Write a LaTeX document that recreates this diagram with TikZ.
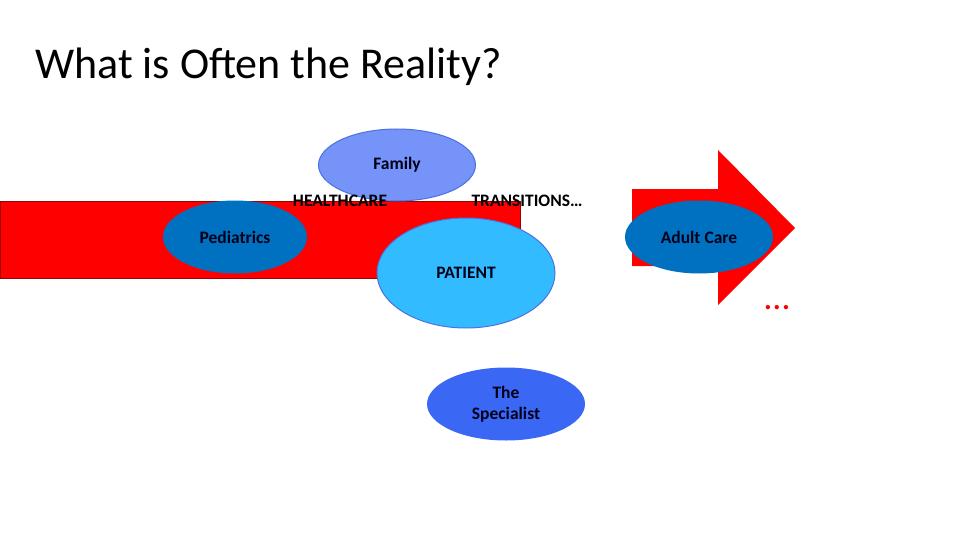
\documentclass[tikz,border=0pt]{standalone}
\usepackage{fontspec}
\setmainfont{Carlito}
\usetikzlibrary{shapes.geometric}
\definecolor{barred}{HTML}{FF0000}
\definecolor{carebl}{HTML}{0070C0}
\definecolor{familybl}{HTML}{7593F8}
\definecolor{patientbl}{HTML}{33BBFF}
\definecolor{specbl}{HTML}{3A68F5}
\definecolor{edgebl}{HTML}{4A72E0}

\begin{document}
\begin{tikzpicture}[
  x=1pt, y=-1pt,
  blob/.style={ellipse, inner sep=0pt, align=center, font=\fontsize{17.5}{21}\selectfont\bfseries, text=black!90!blue},
  lbl/.style={inner sep=0pt, font=\fontsize{17.5}{21}\selectfont\bfseries},
  band/.style={fill=barred, draw=black!40!barred, line width=0.6pt}
]
\useasboundingbox (0,0) rectangle (960,540);

\node[anchor=base west, inner sep=0pt, font=\fontsize{44}{48}\selectfont] (title) at (35,79) {What is Often the Reality?};

% the two red arrows
\path[band] (0,201) rectangle (520,278);
\path[band, draw=none] (632,189) -- (718,189) -- (718,150) -- (795,228) -- (718,305) -- (718,266) -- (632,266) -- cycle;

\node[blob, fill=familybl, draw=edgebl, line width=1pt, minimum width=157, minimum height=72] (family) at (397,165) {Family};
\node[lbl] (health) at (340,201) {HEALTHCARE};
\node[lbl] (trans) at (527,201) {TRANSITIONS…};

\node[blob, fill=carebl, minimum width=144, minimum height=73] (peds) at (235,237) {Pediatrics};
\node[blob, fill=patientbl, draw=edgebl, line width=1pt, minimum width=178, minimum height=110] (patient) at (466,273) {PATIENT};
\node[blob, fill=carebl, minimum width=148, minimum height=73] (adult) at (699,237) {Adult Care};
\node[blob, fill=specbl, minimum width=158, minimum height=73] (spec) at (506,404) {The\\Specialist};

\node[anchor=base, inner sep=0pt, text=barred, font=\fontsize{36}{40}\selectfont] (dots) at (777,309) {…};
\end{tikzpicture}
\end{document}
